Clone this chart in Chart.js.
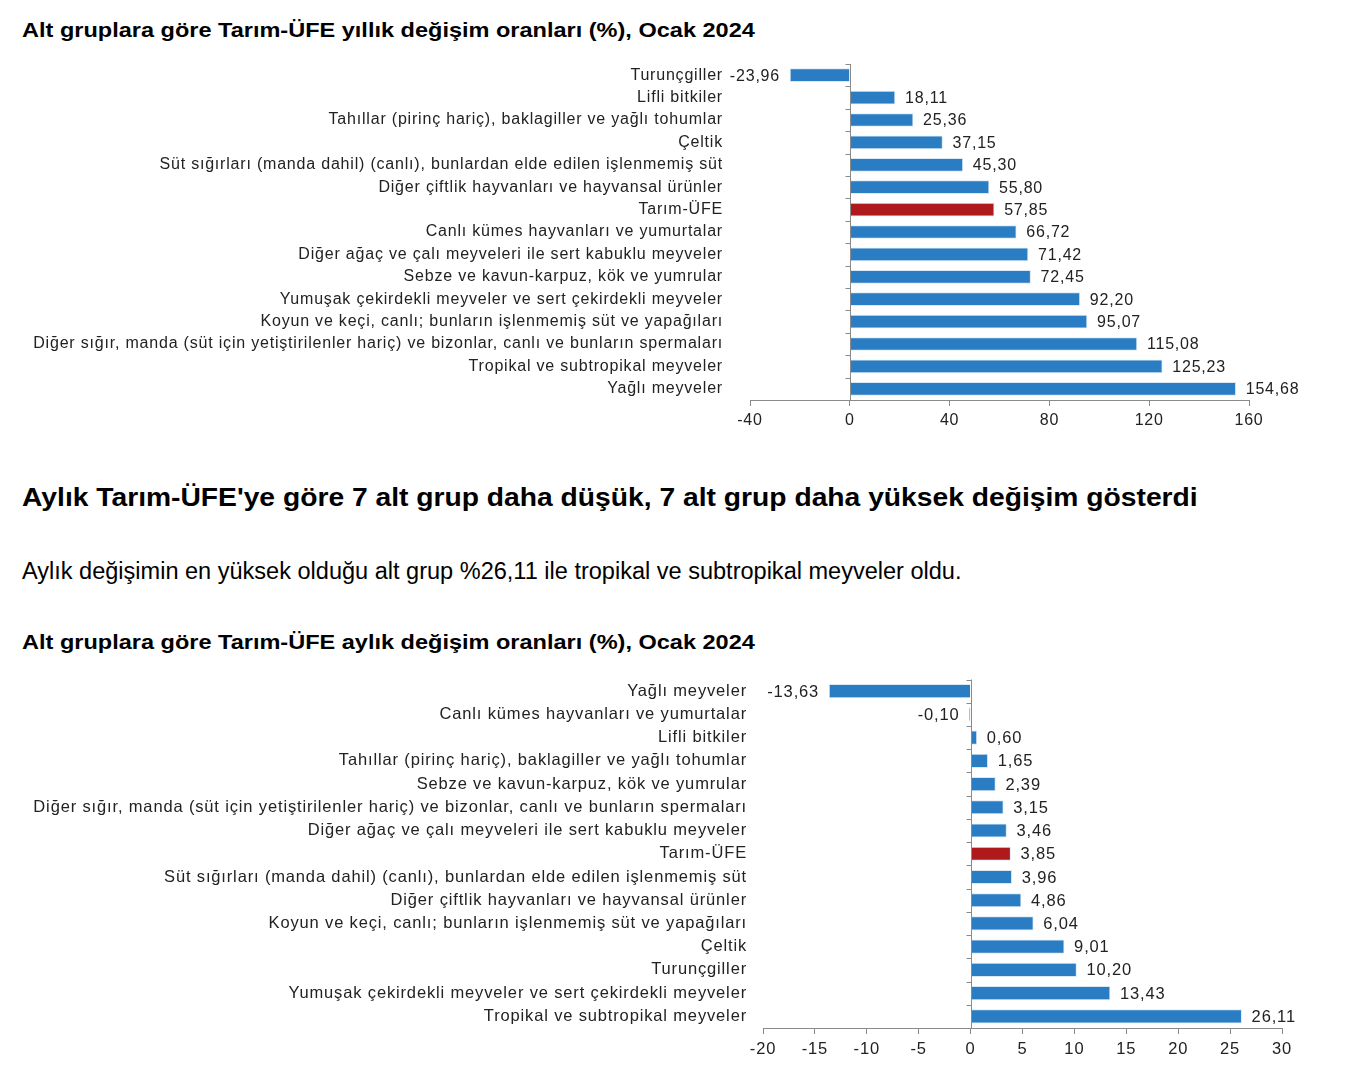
<!DOCTYPE html>
<html>
<head>
<meta charset="utf-8">
<script src="https://cdn.jsdelivr.net/npm/chart.js@4/dist/chart.umd.min.js"></script>
<style>
  body { margin: 0; background: #fff; font-family: "Liberation Sans", Arial, sans-serif; color: #000; }
  .t { position: absolute; left: 22px; white-space: nowrap; margin: 0; transform-origin: 0 50%; }
  .h1 { font-weight: bold; font-size: 21px; transform: scaleX(1.12); }
  .h2 { font-weight: bold; font-size: 26px; transform: scaleX(1.086); }
  .p  { font-size: 23px; transform: scaleX(1.023); }
  .box { position: absolute; left: 0; width: 1347px; }
</style>
</head>
<body>
<div class="t h1" style="top:18px">Alt gruplara göre Tarım-ÜFE yıllık değişim oranları (%), Ocak 2024</div>
<div class="box" style="top:60px;height:380px"><canvas id="yearly"></canvas></div>
<div class="t h2" style="top:482px">Aylık Tarım-ÜFE'ye göre 7 alt grup daha düşük, 7 alt grup daha yüksek değişim gösterdi</div>
<div class="t p" style="top:558px">Aylık değişimin en yüksek olduğu alt grup %26,11 ile tropikal ve subtropikal meyveler oldu.</div>
<div class="t h1" style="top:630px">Alt gruplara göre Tarım-ÜFE aylık değişim oranları (%), Ocak 2024</div>
<div class="box" style="top:670px;height:400px"><canvas id="monthly"></canvas></div>
<script>
// --- data ---
const yearlyLabels = [
  "Turunçgiller",
  "Lifli bitkiler",
  "Tahıllar (pirinç hariç), baklagiller ve yağlı tohumlar",
  "Çeltik",
  "Süt sığırları (manda dahil) (canlı), bunlardan elde edilen işlenmemiş süt",
  "Diğer çiftlik hayvanları ve hayvansal ürünler",
  "Tarım-ÜFE",
  "Canlı kümes hayvanları ve yumurtalar",
  "Diğer ağaç ve çalı meyveleri ile sert kabuklu meyveler",
  "Sebze ve kavun-karpuz, kök ve yumrular",
  "Yumuşak çekirdekli meyveler ve sert çekirdekli meyveler",
  "Koyun ve keçi, canlı; bunların işlenmemiş süt ve yapağıları",
  "Diğer sığır, manda (süt için yetiştirilenler hariç) ve bizonlar, canlı ve bunların spermaları",
  "Tropikal ve subtropikal meyveler",
  "Yağlı meyveler"
];
const yearlyValues = [-23.96, 18.11, 25.36, 37.15, 45.30, 55.80, 57.85, 66.72, 71.42, 72.45, 92.20, 95.07, 115.08, 125.23, 154.68];
const yearlyTicks = [-40, 0, 40, 80, 120, 160];

const monthlyLabels = [
  "Yağlı meyveler",
  "Canlı kümes hayvanları ve yumurtalar",
  "Lifli bitkiler",
  "Tahıllar (pirinç hariç), baklagiller ve yağlı tohumlar",
  "Sebze ve kavun-karpuz, kök ve yumrular",
  "Diğer sığır, manda (süt için yetiştirilenler hariç) ve bizonlar, canlı ve bunların spermaları",
  "Diğer ağaç ve çalı meyveleri ile sert kabuklu meyveler",
  "Tarım-ÜFE",
  "Süt sığırları (manda dahil) (canlı), bunlardan elde edilen işlenmemiş süt",
  "Diğer çiftlik hayvanları ve hayvansal ürünler",
  "Koyun ve keçi, canlı; bunların işlenmemiş süt ve yapağıları",
  "Çeltik",
  "Turunçgiller",
  "Yumuşak çekirdekli meyveler ve sert çekirdekli meyveler",
  "Tropikal ve subtropikal meyveler"
];
const monthlyValues = [-13.63, -0.10, 0.60, 1.65, 2.39, 3.15, 3.46, 3.85, 3.96, 4.86, 6.04, 9.01, 10.20, 13.43, 26.11];
const monthlyTicks = [-20, -15, -10, -5, 0, 5, 10, 15, 20, 25, 30];

const BLUE = "#2a7cc3";
const RED = "#ae1a1c";
const AXIS = "#8a8a8a";
const FONT = '"Liberation Sans", Arial, sans-serif';

// the original text is a bit wide, spread letters a little
const spacing = {
  id: "spacing",
  beforeLayout(chart, args, opts) { chart.ctx.letterSpacing = opts.px + "px"; },
  beforeDraw(chart, args, opts) { chart.ctx.letterSpacing = opts.px + "px"; }
};

// y axis drawn at value 0 with small ticks between categories
const zeroAxis = {
  id: "zeroAxis",
  afterDatasetsDraw(chart) {
    const { ctx, chartArea } = chart;
    const x0 = Math.round(chart.scales.x.getPixelForValue(0)) + 0.5;
    const n = chart.data.labels.length;
    const step = (chartArea.bottom - chartArea.top) / n;
    ctx.save();
    ctx.strokeStyle = AXIS;
    ctx.lineWidth = 1;
    ctx.beginPath();
    ctx.moveTo(x0, chartArea.top);
    ctx.lineTo(x0, chartArea.bottom);
    for (let i = 0; i < n; i++) {
      const y = Math.round(chartArea.top + i * step) + 0.5;
      ctx.moveTo(x0 - 5, y);
      ctx.lineTo(x0, y);
    }
    ctx.stroke();
    ctx.restore();
  }
};

// value labels next to bar ends
const valueLabels = {
  id: "valueLabels",
  afterDatasetsDraw(chart, args, opts) {
    const { ctx } = chart;
    const meta = chart.getDatasetMeta(0);
    const vals = chart.data.datasets[0].data;
    ctx.save();
    ctx.font = opts.size + "px " + FONT;
    ctx.fillStyle = "#222";
    ctx.textBaseline = "middle";
    meta.data.forEach((bar, i) => {
      const v = vals[i];
      const txt = v.toFixed(2).replace(".", ",");
      if (v < 0) {
        ctx.textAlign = "right";
        ctx.fillText(txt, Math.min(bar.x, bar.base) - 10, bar.y + 1);
      } else {
        ctx.textAlign = "left";
        ctx.fillText(txt, bar.x + 10, bar.y + 1);
      }
    });
    ctx.restore();
  }
};

function makeChart(id, labels, values, ticks, o) {
  return new Chart(document.getElementById(id), {
    type: "bar",
    data: {
      labels,
      datasets: [{
        data: values,
        backgroundColor: labels.map(l => l === "Tarım-ÜFE" ? RED : BLUE),
        borderColor: "#d9e8f5",
        borderWidth: 1,
        barThickness: o.bar
      }]
    },
    plugins: [spacing, zeroAxis, valueLabels],
    options: {
      indexAxis: "y",
      responsive: true,
      maintainAspectRatio: false,
      animation: false,
      layout: { padding: { top: o.top, right: o.right, left: 0, bottom: 0 } },
      plugins: {
        legend: { display: false },
        tooltip: { enabled: false },
        spacing: { px: o.ls },
        valueLabels: { size: o.font }
      },
      scales: {
        x: {
          min: ticks[0],
          max: ticks[ticks.length - 1],
          afterBuildTicks: s => { s.ticks = ticks.map(v => ({ value: v })); },
          afterFit: s => { s.height = o.xh; },
          grid: { drawOnChartArea: false, drawTicks: true, tickLength: 6, color: AXIS },
          border: { display: true, color: AXIS },
          ticks: { color: "#222", font: { family: FONT, size: o.font }, padding: o.xpad, maxRotation: 0 }
        },
        y: {
          afterFit: s => { s.width = o.yw; s.paddingTop = 0; s.paddingBottom = 0; },
          grid: { display: false, drawTicks: false },
          border: { display: false },
          ticks: { color: "#222", font: { family: FONT, size: o.font }, padding: o.pad, autoSkip: false }
        }
      }
    }
  });
}

makeChart("yearly", yearlyLabels, yearlyValues, yearlyTicks,
  { top: 4, right: 98, yw: 750, xh: 40, pad: 27, xpad: 5, font: 16, ls: 0.8, bar: 13 });
makeChart("monthly", monthlyLabels, monthlyValues, monthlyTicks,
  { top: 9.5, right: 65, yw: 763, xh: 42, pad: 16, xpad: 6, font: 16.5, ls: 0.85, bar: 13.5 });
</script>
</body>
</html>
